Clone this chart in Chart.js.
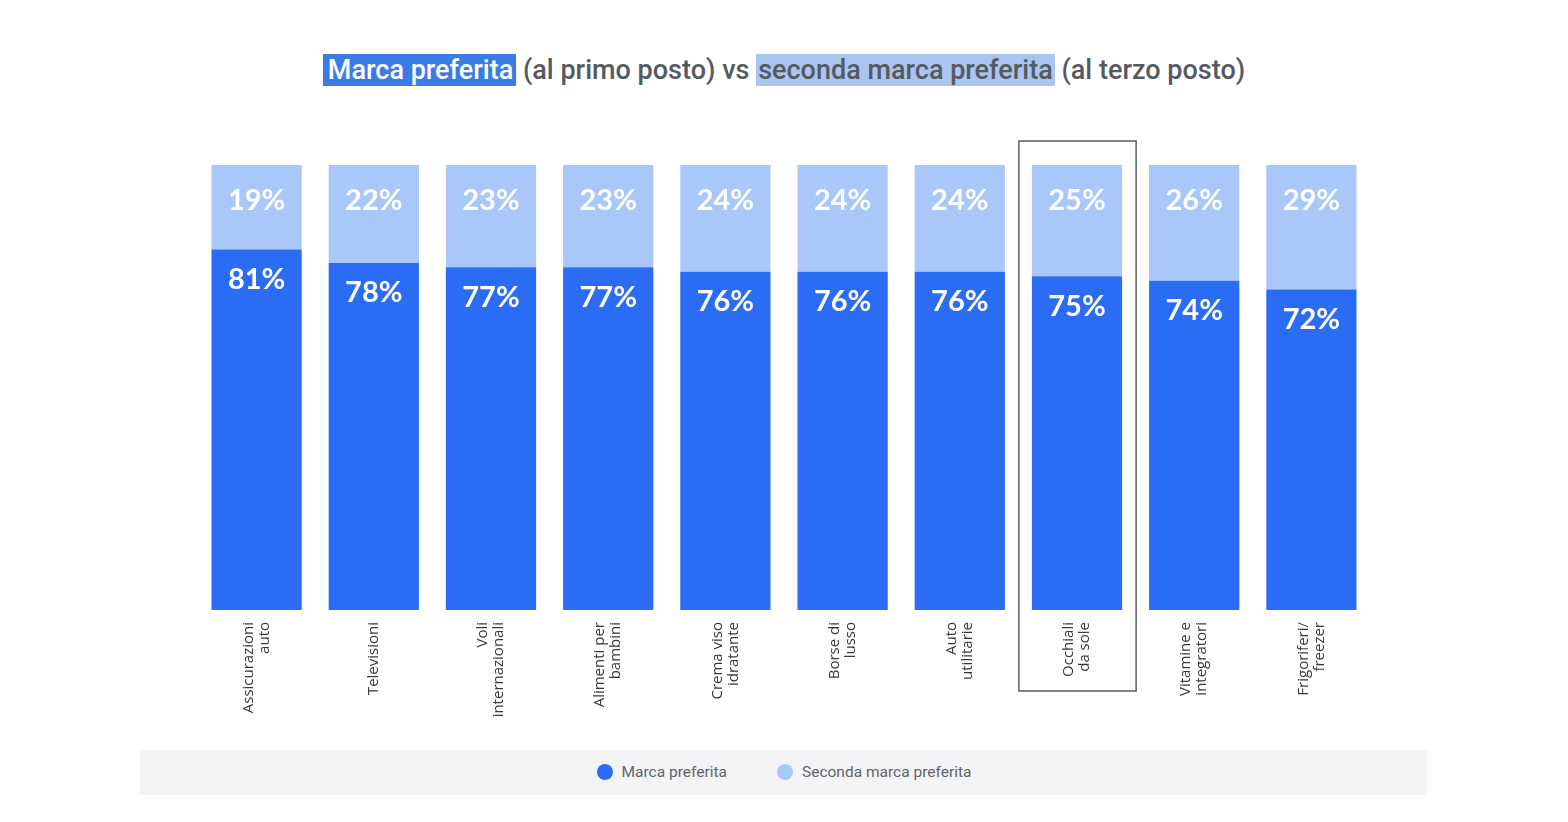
<!DOCTYPE html>
<html>
<head>
<meta charset="utf-8">
<script src="https://cdn.jsdelivr.net/npm/chart.js@4/dist/chart.umd.min.js"></script>
<style>
  html, body { margin:0; padding:0; background:#ffffff; width:1568px; height:822px; overflow:hidden; }
  #title { position:absolute; left:0; width:1568px; top:54px; text-align:center; font-family:Roboto, sans-serif; font-weight:500; font-size:27px; line-height:32px; color:#555a60; white-space:nowrap; }
  #title .h1 { background:#3a7be6; color:#ffffff; padding:0px 3px 0px 5px; }
  #title .h2 { background:#a9c5f0; color:#555a60; padding:0px 2px 0px 2px; }
  #legendband { position:absolute; left:140px; top:750px; width:1287px; height:45px; background:#f4f4f6; }
  #legend { position:absolute; left:0; width:1568px; top:762px; text-align:center; font-family:Roboto, sans-serif; font-size:15.5px; line-height:20px; color:#5f6368; white-space:nowrap; }
  #legend .item { display:inline-block; margin:0 25px; }
  #legend .dot { display:inline-block; width:16px; height:16px; border-radius:50%; vertical-align:-3px; margin-right:9px; }
  #wrap { position:absolute; left:0; top:0; width:1568px; height:822px; }
</style>
</head>
<body>
<div id="legendband"></div>
<div id="title"><span class="h1">Marca preferita</span> (al primo posto) vs <span class="h2">seconda marca preferita</span> (al terzo posto)</div>
<div id="legend"></div>
<div id="wrap"><canvas id="c"></canvas></div>
<script>
const categories = [
  ["Assicurazioni", "auto"],
  ["Televisioni"],
  ["Voli", "internazionali"],
  ["Alimenti per", "bambini"],
  ["Crema viso", "idratante"],
  ["Borse di", "lusso"],
  ["Auto", "utilitarie"],
  ["Occhiali", "da sole"],
  ["Vitamine e", "integratori"],
  ["Frigoriferi/", "freezer"]
];
const primaryValues = [81, 78, 77, 77, 76, 76, 76, 75, 74, 72];
const secondValues = [19, 22, 23, 23, 24, 24, 24, 25, 26, 29];
const seriesNames = ["Marca preferita", "Seconda marca preferita"];
const seriesColors = ["#2b6cf5", "#a9c7f9"];
const highlightIndex = 7;

// HTML legend built from series names/colours
const lg = document.getElementById('legend');
seriesNames.forEach((n, i) => {
  const s = document.createElement('span');
  s.className = 'item';
  s.innerHTML = '<span class="dot" style="background:' + seriesColors[i] + '"></span>' + n;
  lg.appendChild(s);
});

const labelPlugin = {
  id: 'valueLabels',
  afterDatasetsDraw(chart) {
    const ctx = chart.ctx;
    const area = chart.chartArea;
    ctx.save();
    ctx.fillStyle = '#ffffff';
    ctx.textAlign = 'center';
    ctx.textBaseline = 'middle';
    ctx.font = 'bold 29px Lato, sans-serif';
    chart.data.datasets.forEach((ds, di) => {
      const meta = chart.getDatasetMeta(di);
      meta.data.forEach((bar, i) => {
        const top = Math.max(Math.min(bar.y, bar.base), area.top);
        const off = di === 0 ? 30 : 36;
        ctx.fillText(ds.data[i] + '%', bar.x, top + off);
      });
    });
    ctx.restore();
  }
};

// category labels: rotated, lines centred on the tick, right-aligned near the axis
const tickLabelPlugin = {
  id: 'tickLabels',
  afterDraw(chart) {
    const x = chart.scales.x;
    const ctx = chart.ctx;
    const y0 = chart.chartArea.bottom + 12;
    const lh = 16;
    ctx.save();
    ctx.fillStyle = '#34373b';
    ctx.font = '15px "Open Sans", sans-serif';
    ctx.textAlign = 'right';
    ctx.textBaseline = 'middle';
    categories.forEach((lines, i) => {
      const cx = x.getPixelForValue(i);
      ctx.save();
      ctx.translate(cx, y0);
      ctx.rotate(-Math.PI / 2);
      const n = lines.length;
      lines.forEach((t, k) => {
        ctx.fillText(t, 0, (k - (n - 1) / 2) * lh);
      });
      ctx.restore();
    });
    ctx.restore();
  }
};

const boxPlugin = {
  id: 'highlightBox',
  afterDraw(chart) {
    const x = chart.scales.x, y = chart.scales.y;
    const cw = (x.getPixelForValue(1) - x.getPixelForValue(0));
    const cx = x.getPixelForValue(highlightIndex);
    const ctx = chart.ctx;
    ctx.save();
    ctx.strokeStyle = '#444';
    ctx.lineWidth = 1.3;
    const top = y.getPixelForValue(100) - 24;
    const bottom = y.getPixelForValue(0) + 81;
    ctx.strokeRect(cx - cw / 2 + 0.5, top, cw, bottom - top);
    ctx.restore();
  }
};

new Chart(document.getElementById('c'), {
  type: 'bar',
  data: {
    labels: categories,
    datasets: [
      { label: seriesNames[0], data: primaryValues, backgroundColor: seriesColors[0], borderWidth: 0 },
      { label: seriesNames[1], data: secondValues, backgroundColor: seriesColors[1], borderWidth: 0 }
    ]
  },
  options: {
    responsive: true,
    maintainAspectRatio: false,
    animation: false,
    layout: { padding: { left: 198, right: 198, top: 165, bottom: 82 } },
    datasets: { bar: { barPercentage: 0.77, categoryPercentage: 1.0 } },
    plugins: { legend: { display: false }, tooltip: { enabled: false }, title: { display: false } },
    scales: {
      x: {
        stacked: true,
        grid: { display: false, drawTicks: false },
        border: { display: false },
        ticks: { display: false },
        afterFit(scale) { scale.height = 130; }
      },
      y: { stacked: true, display: false, min: 0, max: 100 }
    }
  },
  plugins: [labelPlugin, tickLabelPlugin, boxPlugin]
});
</script>
</body>
</html>
